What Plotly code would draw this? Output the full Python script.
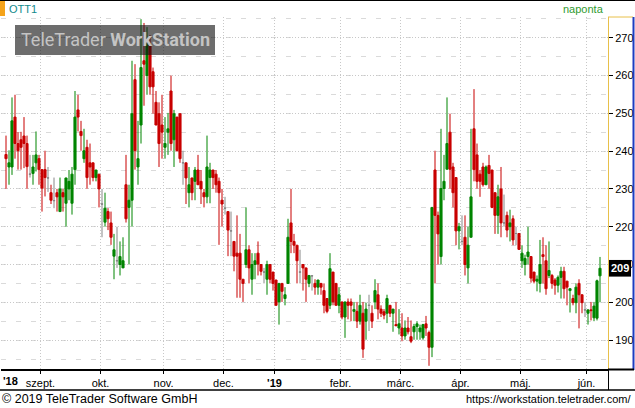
import plotly.graph_objects as go

# ---------------- data (daily candles, OTT1) ----------------
opens = [239.1, 235.8, 235.8, 249.0, 242.0, 243.0, 244.0, 242.0, 233.9, 234.1,
         236.9, 238.0, 235.1, 235.1, 232.9, 229.0, 226.9, 229.0, 224.0, 229.0,
         226.2, 230.0, 226.2, 235.1, 250.9, 245.2, 238.0, 241.0, 236.9, 236.9,
         233.0, 233.9, 226.0, 221.2, 224.0, 221.0, 212.2, 211.0, 210.0, 209.1,
         231.1, 225.1, 227.0, 258.9, 235.8, 246.9, 263.9, 260.0, 268.1, 261.0,
         252.9, 249.9, 246.9, 241.0, 245.0, 255.9, 243.0, 249.0, 249.9, 236.9,
         236.9, 229.0, 232.9, 232.0, 235.0, 232.0, 229.0, 227.9, 233.0, 235.0,
         233.9, 232.0, 227.0, 224.9, 224.0, 218.9, 216.1, 213.0, 213.0, 206.1,
         210.0, 213.9, 206.1, 210.0, 213.0, 210.0, 208.0, 206.1, 210.0, 208.0,
         205.9, 200.1, 205.0, 201.0, 205.0, 221.0, 216.1, 215.1, 208.0, 210.0,
         209.1, 205.0, 207.0, 205.0, 204.0, 205.0, 203.1, 201.0, 199.2, 208.0,
         205.0, 199.2, 200.1, 196.1, 200.1, 200.1, 197.6, 197.6, 195.0, 197.1,
         195.0, 199.2, 197.1, 200.1, 202.0, 198.2, 197.5, 197.1, 199.2, 197.1,
         194.1, 193.2, 193.2, 191.1, 193.2, 190.9, 192.2, 193.6, 192.2, 190.6,
         194.3, 192.0, 188.1, 235.0, 223.0, 212.1, 230.1, 235.2, 245.0, 235.8,
         233.0, 218.9, 216.1, 217.2, 209.1, 217.2, 245.9, 239.0, 233.9, 235.8,
         231.1, 236.2, 235.0, 229.0, 223.0, 230.0, 221.0, 223.0, 220.0, 222.1,
         218.2, 218.2, 211.0, 210.0, 212.1, 212.1, 208.0, 205.6, 205.0, 212.6,
         211.0, 207.1, 207.1, 205.9, 204.5, 206.6, 208.2, 205.6, 203.1, 201.0,
         199.9, 205.0, 202.0, 198.0, 197.1, 198.0, 195.9, 195.8, 207.0]
highs = [244.1, 240.2, 254.2, 254.9, 245.0, 245.1, 249.0, 244.1, 239.0, 239.0,
         245.2, 239.0, 235.1, 240.1, 235.8, 231.1, 233.0, 230.0, 233.0, 230.0,
         232.9, 235.0, 235.8, 255.9, 254.9, 248.0, 245.9, 243.0, 242.0, 236.9,
         235.0, 233.9, 230.0, 229.0, 224.9, 224.0, 218.1, 220.0, 216.1, 217.2,
         239.0, 231.1, 263.9, 263.0, 248.0, 274.9, 273.9, 272.8, 270.7, 262.1,
         255.9, 252.9, 254.9, 249.0, 250.1, 260.0, 250.9, 249.0, 249.9, 240.1,
         236.9, 235.8, 232.9, 235.8, 239.0, 235.0, 230.0, 244.1, 236.9, 235.0,
         235.0, 233.0, 230.0, 227.9, 224.0, 224.0, 216.1, 223.0, 218.1, 206.1,
         225.1, 215.1, 213.0, 213.0, 216.1, 210.0, 209.1, 211.0, 210.0, 208.0,
         205.9, 205.0, 205.0, 204.0, 222.1, 230.0, 218.1, 215.1, 213.9, 210.0,
         209.1, 207.1, 207.0, 206.1, 205.9, 205.0, 205.0, 201.0, 213.0, 208.0,
         205.0, 204.0, 200.1, 200.1, 201.0, 201.0, 200.1, 200.1, 202.0, 200.1,
         199.9, 202.0, 199.2, 206.1, 205.0, 199.2, 198.2, 202.0, 199.2, 198.2,
         200.1, 198.2, 197.1, 195.2, 196.1, 195.2, 194.3, 195.0, 194.1, 194.3,
         196.4, 192.5, 225.1, 240.1, 224.0, 245.9, 239.0, 254.2, 249.9, 236.9,
         233.0, 221.0, 223.0, 223.0, 220.0, 245.9, 256.4, 242.0, 235.0, 236.9,
         236.2, 239.0, 235.0, 229.0, 231.1, 235.8, 228.5, 224.0, 224.5, 223.0,
         220.0, 218.2, 215.1, 212.6, 220.0, 212.1, 208.0, 207.1, 216.5, 217.2,
         215.1, 216.1, 207.5, 206.4, 207.1, 209.4, 209.4, 205.6, 203.6, 202.0,
         205.0, 206.1, 202.0, 200.1, 198.0, 200.1, 200.1, 206.0, 212.0]
lows = [230.0, 231.1, 233.7, 238.0, 235.1, 235.1, 235.5, 230.0, 233.0, 231.1,
        234.6, 231.1, 224.0, 228.0, 229.2, 226.0, 224.9, 224.0, 224.0, 224.0,
        220.0, 227.0, 223.2, 231.1, 245.2, 240.1, 236.9, 230.0, 231.1, 232.0,
        232.0, 225.1, 217.2, 220.0, 219.1, 215.2, 206.1, 209.1, 207.1, 209.1,
        221.1, 210.0, 220.0, 235.1, 231.1, 242.0, 252.0, 254.9, 254.9, 249.9,
        246.9, 235.8, 238.0, 238.0, 239.0, 240.1, 235.8, 239.9, 236.9, 231.1,
        226.0, 225.1, 227.0, 227.0, 231.1, 226.0, 225.1, 226.2, 226.2, 230.0,
        229.0, 215.2, 220.0, 223.2, 212.2, 212.2, 208.2, 201.2, 201.2, 200.1,
        209.1, 205.0, 202.0, 206.1, 207.1, 207.1, 205.0, 202.0, 205.0, 203.1,
        199.2, 194.1, 200.1, 199.2, 205.0, 213.0, 213.0, 205.0, 205.0, 203.1,
        200.1, 204.0, 203.1, 202.0, 202.0, 202.0, 197.1, 197.1, 198.2, 199.2,
        199.2, 197.1, 195.5, 190.6, 195.5, 195.0, 195.0, 193.2, 194.1, 185.3,
        190.1, 192.4, 193.2, 198.2, 195.5, 196.1, 195.5, 194.5, 196.1, 192.2,
        193.8, 191.5, 189.7, 190.1, 191.5, 189.2, 190.1, 190.1, 190.1, 190.1,
        191.1, 183.2, 185.5, 205.0, 210.0, 210.0, 227.0, 235.2, 230.0, 225.1,
        215.1, 214.0, 215.1, 207.1, 205.0, 217.2, 232.0, 230.0, 227.9, 230.6,
        231.1, 230.0, 224.9, 218.1, 218.1, 217.2, 220.0, 217.2, 216.1, 215.1,
        215.1, 214.0, 209.1, 207.1, 210.0, 205.2, 205.0, 202.9, 202.6, 205.0,
        202.0, 206.4, 203.6, 202.0, 202.6, 201.0, 201.0, 199.2, 197.3, 199.2,
        197.1, 193.1, 197.1, 196.1, 194.1, 195.2, 195.0, 195.2, 200.0]
closes = [238.0, 236.9, 248.0, 242.0, 240.1, 241.0, 242.0, 235.9, 233.9, 235.8,
          239.0, 235.1, 230.2, 233.0, 232.9, 227.0, 226.9, 227.9, 230.0, 227.9,
          232.9, 232.0, 233.9, 249.0, 249.0, 244.1, 240.1, 233.0, 235.8, 233.0,
          235.0, 230.0, 226.0, 224.9, 222.1, 217.2, 213.9, 211.0, 212.1, 211.0,
          222.1, 227.0, 249.9, 240.1, 238.0, 262.1, 263.0, 268.1, 257.0, 257.0,
          246.9, 242.0, 245.0, 242.0, 245.9, 242.0, 249.9, 240.1, 238.0, 236.9,
          232.9, 231.1, 229.0, 235.0, 231.1, 230.0, 227.9, 235.8, 235.0, 233.0,
          231.1, 229.0, 226.0, 224.9, 219.1, 218.9, 212.2, 212.2, 206.1, 205.0,
          213.9, 209.1, 210.0, 211.0, 210.1, 208.2, 208.0, 210.0, 206.1, 205.0,
          199.2, 205.0, 202.9, 202.0, 217.2, 216.1, 215.1, 211.0, 208.0, 209.1,
          206.1, 207.1, 207.0, 204.0, 205.9, 204.0, 199.2, 197.6, 208.9, 200.1,
          199.2, 202.0, 196.1, 200.1, 199.2, 199.2, 198.1, 195.0, 199.2, 187.6,
          198.2, 199.2, 195.0, 203.1, 198.2, 197.1, 196.6, 201.0, 197.1, 198.2,
          193.8, 194.3, 191.1, 193.2, 192.2, 189.7, 193.6, 194.3, 193.2, 194.1,
          193.2, 188.1, 225.1, 223.0, 218.1, 230.1, 232.0, 242.0, 235.2, 229.0,
          218.9, 220.0, 216.1, 210.0, 215.1, 227.9, 235.1, 232.0, 232.0, 231.1,
          235.8, 234.1, 225.1, 223.0, 227.9, 221.0, 221.0, 219.1, 221.0, 216.5,
          218.2, 214.0, 213.0, 211.6, 213.3, 206.4, 205.6, 206.1, 210.0, 212.1,
          203.6, 208.4, 205.0, 204.5, 206.6, 208.2, 203.6, 204.0, 203.6, 199.9,
          204.0, 202.0, 199.9, 198.0, 198.0, 197.8, 199.0, 205.7, 209.0]

month_labels = ["szept.", "okt.", "nov.", "dec.", "<b>'19</b>", "febr.",
                "márc.", "ápr.", "máj.", "jún."]
month_first_idx = [12, 32, 53, 73, 90, 112, 132, 152, 172, 194]
y_ticks = [190, 200, 210, 220, 230, 240, 250, 260, 270]
last_price = 209
symbol = "OTT1"
period_label = "naponta"

# ---------------- layout geometry ----------------
W, H = 635, 408
ML, MR, MT, MB = 1, 27, 17, 39
PW, PH = W - ML - MR, H - MT - MB
PXU = 3.0                      # pixels per trading day
X0 = -(6 - ML) / PXU
X1 = X0 + PW / PXU
YPX = 3.78
Y1 = 270 + (37.7 - MT) / YPX
Y0 = Y1 - PH / YPX


def pxx(p):
    return (p - ML) / PW


def pxy(p):
    return (H - MB - p) / PH


n = len(closes)
xs = list(range(n))
is_doji = [abs(o - c) < 1e-9 for o, c in zip(opens, closes)]

GREEN = "#008500"
RED = "#c80000"
GRAY = "#888888"

fig = go.Figure()
fig.add_trace(go.Candlestick(
    x=xs,
    open=[None if d else v for v, d in zip(opens, is_doji)],
    high=[None if d else v for v, d in zip(highs, is_doji)],
    low=[None if d else v for v, d in zip(lows, is_doji)],
    close=[None if d else v for v, d in zip(closes, is_doji)],
    increasing=dict(line=dict(color=GREEN, width=1), fillcolor=GREEN),
    decreasing=dict(line=dict(color=RED, width=1), fillcolor=RED),
    whiskerwidth=0, hoverinfo="skip", showlegend=False,
))
fig.add_trace(go.Candlestick(
    x=xs,
    open=[v if d else None for v, d in zip(opens, is_doji)],
    high=[v if d else None for v, d in zip(highs, is_doji)],
    low=[v if d else None for v, d in zip(lows, is_doji)],
    close=[v if d else None for v, d in zip(closes, is_doji)],
    increasing=dict(line=dict(color=GRAY, width=1), fillcolor=GRAY),
    decreasing=dict(line=dict(color=GRAY, width=1), fillcolor=GRAY),
    whiskerwidth=0, hoverinfo="skip", showlegend=False,
))

GRID = "#c8c8c8"
FONT = "Liberation Sans, Arial, sans-serif"

fig.update_layout(
    width=W, height=H,
    margin=dict(l=ML, r=MR, t=MT, b=MB, pad=0),
    paper_bgcolor="white", plot_bgcolor="white",
    boxgap=0.0,
    showlegend=False,
    font=dict(family=FONT, size=11, color="#000000"),
    xaxis=dict(
        range=[X0, X1], rangeslider=dict(visible=False),
        tickmode="array",
        tickvals=[i - 0.5 for i in month_first_idx],
        ticktext=month_labels,
        ticks="outside", ticklen=3, tickcolor="#000000",
        showgrid=True, gridcolor=GRID, griddash="1px,2px", gridwidth=1,
        showline=True, linecolor="#000000", linewidth=2,
        zeroline=False, fixedrange=True,
        tickfont=dict(family=FONT, size=11, color="#000000"),
    ),
    yaxis=dict(
        range=[Y0, Y1], side="right",
        tickmode="array", tickvals=y_ticks,
        ticks="outside", ticklen=4, tickcolor="#000000",
        showgrid=True, gridcolor=GRID, griddash="1px,2px", gridwidth=1,
        minor=dict(dtick=5, showgrid=True, gridcolor="#dadada",
                   griddash="5px,10px", ticks=""),
        showline=False, zeroline=False,
        tickfont=dict(family=FONT, size=11, color="#000000"),
    ),
    yaxis2=dict(
        range=[Y0, Y1], overlaying="y", side="left", anchor="x",
        dtick=2, tick0=0, ticks="inside", ticklen=3, tickcolor="#000000",
        showticklabels=False, showgrid=False, zeroline=False,
        showline=True, linecolor="#000000", linewidth=1,
    ),
    yaxis3=dict(
        range=[Y0, Y1], overlaying="y", side="right", anchor="x",
        dtick=1, tick0=0, ticks="outside", ticklen=2, tickcolor="#000000",
        showticklabels=False, showgrid=False, zeroline=False, showline=False,
    ),
)

shapes = []
# header line and symbol marker
shapes.append(dict(type="line", xref="paper", yref="paper",
                   x0=pxx(0), x1=pxx(W), y0=pxy(0.5), y1=pxy(0.5),
                   line=dict(color="#000000", width=1)))
shapes.append(dict(type="rect", xref="paper", yref="paper",
                   x0=pxx(0), x1=pxx(5), y0=pxy(1), y1=pxy(16),
                   fillcolor="#f5a31a", line=dict(width=0)))
# right price-axis frame
shapes.append(dict(type="line", xref="paper", yref="paper",
                   x0=pxx(608), x1=pxx(633), y0=pxy(17), y1=pxy(17),
                   line=dict(color="#e8c04a", width=1)))
shapes.append(dict(type="line", xref="paper", yref="paper",
                   x0=pxx(608.5), x1=pxx(608.5), y0=pxy(17), y1=pxy(369),
                   line=dict(color="#e8c04a", width=1)))
shapes.append(dict(type="line", xref="paper", yref="paper",
                   x0=pxx(633.5), x1=pxx(633.5), y0=pxy(17), y1=pxy(370),
                   line=dict(color="#1f3cc0", width=2)))
shapes.append(dict(type="line", xref="paper", yref="paper",
                   x0=pxx(608), x1=pxx(634), y0=pxy(369.5), y1=pxy(369.5),
                   line=dict(color="#000000", width=2)))
# date-axis frame
shapes.append(dict(type="line", xref="paper", yref="paper",
                   x0=pxx(0), x1=pxx(W), y0=pxy(390), y1=pxy(390),
                   line=dict(color="#000000", width=1.5)))
shapes.append(dict(type="line", xref="paper", yref="paper",
                   x0=pxx(608.5), x1=pxx(608.5), y0=pxy(370), y1=pxy(390),
                   line=dict(color="#000000", width=1)))
# watermark box
shapes.append(dict(type="rect", xref="paper", yref="paper",
                   x0=pxx(15), x1=pxx(215), y0=pxy(25), y1=pxy(55),
                   fillcolor="rgba(20,20,20,0.62)", line=dict(width=0),
                   layer="above"))
# last price box
shapes.append(dict(type="rect", xref="paper", yref="y",
                   x0=pxx(609), x1=pxx(631), y0=last_price - 2.2, y1=last_price + 2.2,
                   fillcolor="#000000", line=dict(width=0), layer="above"))
fig.update_layout(shapes=shapes)

ann = []
ann.append(dict(xref="paper", yref="paper", x=pxx(7), y=pxy(9),
                xanchor="left", yanchor="middle", showarrow=False,
                text=symbol, font=dict(family=FONT, size=11, color="#118a8c")))
ann.append(dict(xref="paper", yref="paper", x=pxx(606), y=pxy(9),
                xanchor="right", yanchor="middle", showarrow=False,
                text=period_label, font=dict(family=FONT, size=11, color="#2f9a2f")))
ann.append(dict(xref="paper", yref="paper", x=pxx(115), y=pxy(40),
                xanchor="center", yanchor="middle", showarrow=False,
                text="TeleTrader <b>WorkStation</b>",
                font=dict(family="Roboto, sans-serif", size=18, color="#c4c4c4")))
ann.append(dict(xref="paper", yref="paper", x=pxx(10), y=pxy(381),
                xanchor="center", yanchor="middle", showarrow=False,
                text="<b>'18</b>", font=dict(family=FONT, size=11, color="#000000")))
ann.append(dict(xref="paper", yref="y", x=pxx(620), y=last_price,
                xanchor="center", yanchor="middle", showarrow=False,
                text="<b>%d</b>" % last_price,
                font=dict(family=FONT, size=11, color="#ffffff")))
ann.append(dict(xref="paper", yref="paper", x=pxx(0), y=pxy(399),
                xanchor="left", yanchor="middle", showarrow=False,
                text="© 2019 TeleTrader Software GmbH",
                font=dict(family=FONT, size=12.5, color="#000000")))
ann.append(dict(xref="paper", yref="paper", x=pxx(633), y=pxy(399),
                xanchor="right", yanchor="middle", showarrow=False,
                text="https://workstation.teletrader.com/",
                font=dict(family=FONT, size=11, color="#000000")))
fig.update_layout(annotations=ann)

fig.write_html("out.html",
               config={"displayModeBar": False},
               post_script="document.body.style.margin='0';"
                           "document.body.style.padding='0';")
